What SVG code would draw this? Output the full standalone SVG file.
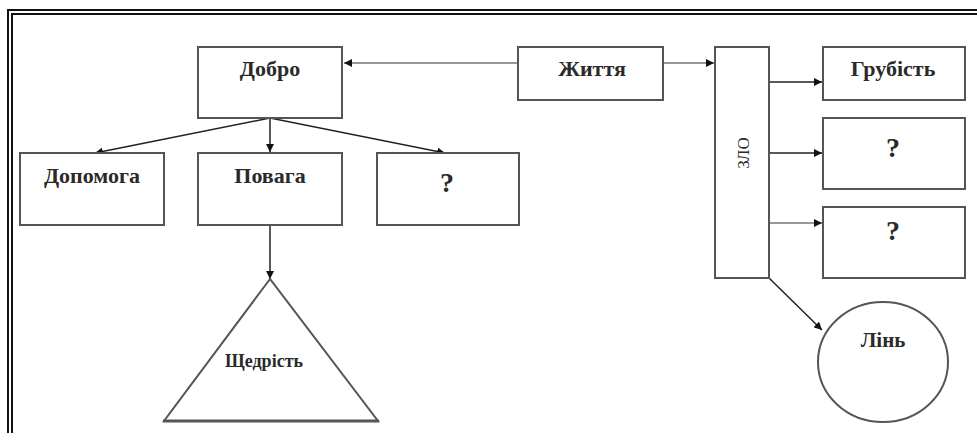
<svg xmlns="http://www.w3.org/2000/svg" width="977" height="433" viewBox="0 0 977 433">
<style>
.frame{fill:none;stroke:#111;stroke-width:2}
.box{fill:#fff;stroke:#555;stroke-width:2}
.lbl{font-family:"Liberation Serif","Times New Roman",serif;font-weight:bold;font-size:22px;fill:#2a2a2a;text-anchor:middle}
.sm{font-size:18px}
.q{font-size:28px}
.con{fill:none;stroke:#222;stroke-width:1.5}
.gray{stroke:#777}
</style>
<defs>
<marker id="ah" viewBox="0 0 10 10" refX="10" refY="5" markerWidth="8" markerHeight="8" markerUnits="userSpaceOnUse" orient="auto">
<path d="M0,0 L10,5 L0,10 z" fill="#111"/>
</marker>
</defs>
<rect width="977" height="433" fill="#fff"/>
<g id="frame">
<path class="frame" d="M8,433 V10 H977"/>
<path class="frame" d="M12,433 V14 H977"/>
</g>
<g id="connectors">
<path class="con gray" d="M518,63 H344" marker-end="url(#ah)"/>
<path class="con gray" d="M663,63 H714" marker-end="url(#ah)"/>
<path class="con" d="M270,118 L95,153" marker-end="url(#ah)"/>
<path class="con" d="M270,118 V152" marker-end="url(#ah)"/>
<path class="con" d="M270,118 L445,153" marker-end="url(#ah)"/>
<path class="con" d="M270,225 V279" marker-end="url(#ah)"/>
<path class="con" d="M769,82 H822" marker-end="url(#ah)"/>
<path class="con" d="M769,153 H822" marker-end="url(#ah)"/>
<path class="con gray" d="M769,223 H822" marker-end="url(#ah)"/>
<path class="con" d="M769,278 L822,330" marker-end="url(#ah)"/>
</g>
<g id="dobro">
<rect class="box" x="198" y="47" width="144" height="71"/>
<text class="lbl" x="270" y="76">Добро</text>
</g>
<g id="zhyttia">
<rect class="box" x="518" y="47" width="145" height="53"/>
<text class="lbl" x="592" y="76">Життя</text>
</g>
<g id="dopomoha">
<rect class="box" x="20" y="153" width="144" height="72"/>
<text class="lbl" x="92" y="183">Допомога</text>
</g>
<g id="povaha">
<rect class="box" x="198" y="153" width="144" height="72"/>
<text class="lbl" x="270" y="183">Повага</text>
</g>
<g id="q1">
<rect class="box" x="377" y="153" width="142" height="72"/>
<text class="lbl q" x="447" y="192">?</text>
</g>
<g id="shchedrist">
<path class="box" d="M270,279 L164,421 H378 Z" stroke-width="1.5"/>
<line x1="163" y1="421" x2="379" y2="421" stroke="#555" stroke-width="3"/>
<text class="lbl sm" x="264" y="367">Щедрість</text>
</g>
<g id="zlo">
<rect class="box" x="715" y="47" width="54" height="231"/>
<text class="lbl" style="font-size:17px;font-weight:normal" transform="translate(749,153) rotate(-90)">ЗЛО</text>
</g>
<g id="hrubist">
<rect class="box" x="823" y="47" width="142" height="53"/>
<text class="lbl" x="893" y="76">Грубість</text>
</g>
<g id="q2">
<rect class="box" x="823" y="118" width="142" height="71"/>
<text class="lbl q" x="893" y="157">?</text>
</g>
<g id="q3">
<rect class="box" x="823" y="207" width="142" height="71"/>
<text class="lbl q" x="893" y="240">?</text>
</g>
<g id="lin">
<ellipse class="box" cx="883" cy="362" rx="65" ry="60" stroke-width="1.5"/>
<text class="lbl sm" style="font-size:21px" x="883" y="347">Лінь</text>
</g>
</svg>
